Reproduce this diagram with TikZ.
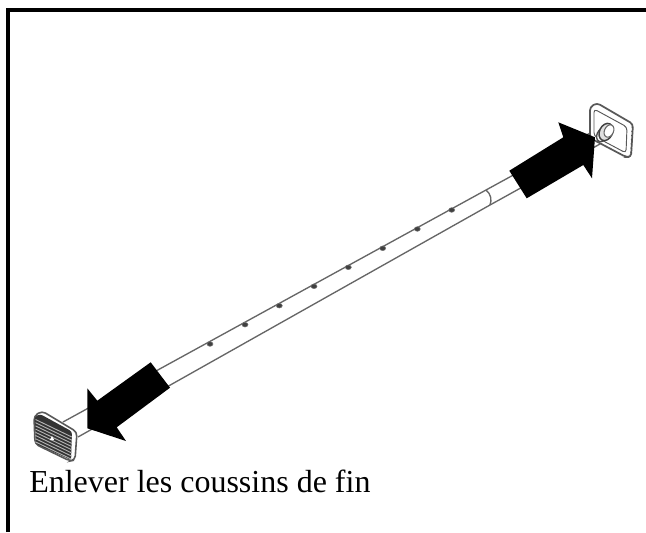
\documentclass[tikz,border=0pt]{standalone}
\usepackage{fontspec}
\setmainfont{Liberation Serif}
\tikzset{
 tube/.style={draw=black!60,line width=1pt},
 padline/.style={draw=black!65,line width=1pt,fill=white,rounded corners=2.5pt},
 bigarrow/.style={fill=black,draw=none},
 hole/.style={fill=black!75,draw=black!55,line width=0.4pt},
}
\begin{document}
\begin{tikzpicture}[x=0.75pt,y=-0.75pt]
\useasboundingbox (0,0) rectangle (646,532);
\fill[white] (0,0) rectangle (646,532);
% frame
\draw[line width=3pt,black] (8,532) -- (8,10) -- (646,10);
% tube
\draw[tube] (63,422) -- (486,190);
\draw[tube] (78,437) -- (490,205);
\draw[tube] (486,190) .. controls (491,194) and (492,200) .. (490,205);
\draw[tube] (486,190) -- (592,132);
\draw[tube] (490,205) -- (600,144);
% holes
\foreach \hx/\hy in {210/344,245/324.7,279.3/305.7,314/286.3,348.3/267.3,382.7/248.3,417.3/229,451.7/210}
  \filldraw[hole] (\hx,\hy) ellipse (3 and 2.3);
% right pad
\draw[padline,line width=1.3pt] (590,107) -- (597,103) -- (633,124) -- (631,157) -- (626,157) -- (590,138) -- cycle;
\draw[padline,line width=0.7pt] (594,109) -- (627,127) -- (626,153) -- (594,136) -- cycle;
\foreach \k in {0,...,6}
  \draw[black!70,line width=0.5pt] ({631.5-0.2*\k},{127+4.2*\k}) -- ({633-0.2*\k},{127.5+4.2*\k});
% right hub
\draw[black!70,line width=1pt,fill=white,rotate around={-25:(602,135)}] (602,135) ellipse (5 and 7);
\draw[black!75,line width=1.1pt,fill=black!12,rotate around={-25:(606,132)}] (606,132) ellipse (6.5 and 9);
\draw[black!60,line width=0.8pt,fill=white,rotate around={-25:(609,131)}] (609,131) ellipse (4.5 and 6.5);
% left pad
\draw[black!65,line width=1.2pt,fill=white,rounded corners=3pt] (34,416) -- (42,411) -- (77,432) -- (75,460) -- (70,461) -- (35,444) -- cycle;
\fill[black!80,rounded corners=2pt] (34.5,417) -- (40,414) -- (72,431.5) -- (71,460) -- (36,444) -- cycle;
\foreach \k in {0,...,7}
  \draw[white!70!black,line width=0.7pt] (35.5,{419.5+3.2*\k}) -- (71.8,{437+3.2*\k});
\fill[white] (52,436) -- (54.2,440) -- (49.8,440) -- cycle;
% arrows
\fill[bigarrow] (509.3,170.7) -- (563.3,137.3) -- (558.3,122.3) -- (595,137.3) -- (592,178.3) -- (583.3,165) -- (526.7,198.3) -- cycle;
\fill[bigarrow] (150.7,362.3) -- (170,387.7) -- (116.7,427.3) -- (126,441) -- (87.3,428.3) -- (87.3,388.3) -- (97.3,400.7) -- cycle;
% caption
\node[anchor=base west,inner sep=0pt,font=\fontsize{24}{28}\selectfont] (cap) at (29,492) {Enlever les coussins de fin};
\end{tikzpicture}
\end{document}
